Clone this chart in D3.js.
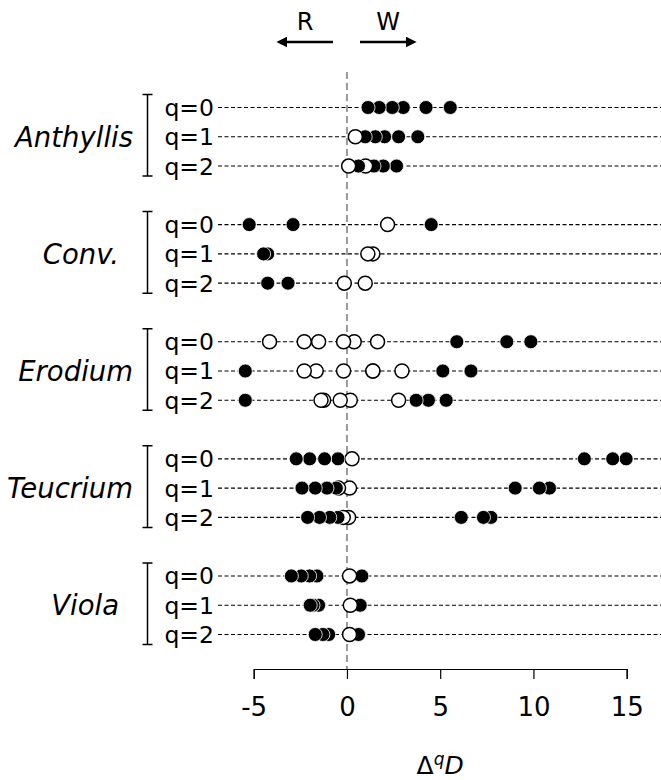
<!DOCTYPE html>
<html>
<head>
<meta charset="utf-8">
<script src="https://cdn.jsdelivr.net/npm/d3@7"></script>
<style>
  body { margin: 0; background: #fff; }
  svg { display: block; font-family: "DejaVu Sans", sans-serif; }
</style>
</head>
<body>
<script>
// genera, top to bottom
let genera = ["Anthyllis", "Conv.", "Erodium", "Teucrium", "Viola"];
let qLabels = ["q=0", "q=1", "q=2"];

// ΔqD values per genus and q order; filled = significant, open = not
let filledValues = [
  [[1.13, 1.73, 2.43, 3.02, 4.24, 5.54], [0.98, 1.52, 2.02, 2.77, 3.8], [0.62, 1.45, 1.95, 2.66]],
  [[-5.24, -2.89, 4.52], [-4.47, -4.25], [-4.25, -3.16]],
  [[5.89, 8.57, 9.86], [-5.45, 5.14, 6.65], [-5.45, 3.71, 4.37, 5.32]],
  [[-2.72, -2.0, -1.2, -0.48, 12.73, 14.25, 14.97], [-2.41, -1.7, -1.07, -0.57, 9.02, 10.32, 10.86], [-2.11, -1.47, -0.92, -0.48, 6.13, 7.32, 7.72]],
  [[-2.98, -2.45, -2.0, -1.61, 0.8], [-1.97, -1.82, -1.52, 0.71], [-1.7, -1.29, -0.98, 0.62]]
];
let openValues = [
  [[], [0.45], [0.09, 1.0]],
  [[2.18], [1.12, 1.39], [-0.14, 0.98]],
  [[-4.15, -2.29, -1.52, -0.18, 0.39, 1.64], [-2.29, -1.65, -0.18, 1.39, 1.39, 2.95], [-1.39, -1.25, -0.36, 0.18, 2.77]],
  [[0.27], [-0.45, 0.14], [-0.2, 0.09]],
  [[0.14], [0.18], [0.14]]
];
let xTicks = [-5, 0, 5, 10, 15];

let width = 661, height = 780;

let svg = d3.select("body").append("svg")
  .attr("width", width)
  .attr("height", height);

let x = d3.scaleLinear().domain([-5, 15]).range([253.7, 626.7]);
// one empty slot between genera
let y = d3.scaleLinear().domain([0, 18]).range([107.5, 634.5]);

// short names sit a bit further left in the original
let labelRight = { "Conv.": 119, "Viola": 119 };

let rows = [];
genera.forEach(function(genus, g) {
  qLabels.forEach(function(q, i) {
    let idx = g * 4 + i;
    let pts = [];
    filledValues[g][i].forEach(v => pts.push({ v: v, filled: true }));
    openValues[g][i].forEach(v => pts.push({ v: v, filled: false }));
    // leftmost markers end up on top
    pts.sort((a, b) => b.v - a.v);
    rows.push({ genus: genus, q: q, idx: idx, pts: pts });
  });
});

// zero reference line
svg.append("line")
  .attr("x1", x(0)).attr("x2", x(0))
  .attr("y1", 72).attr("y2", 669)
  .attr("stroke", "#9a9a9a")
  .attr("stroke-width", 2)
  .attr("stroke-dasharray", "7,4");

// row guide lines
svg.append("g").selectAll("line")
  .data(rows)
  .enter().append("line")
  .attr("x1", 218).attr("x2", width)
  .attr("y1", d => y(d.idx)).attr("y2", d => y(d.idx))
  .attr("stroke", "#000")
  .attr("stroke-width", 1.1)
  .attr("stroke-dasharray", "4,2.5");

// q labels
svg.append("g").selectAll("text")
  .data(rows)
  .enter().append("text")
  .attr("x", 214)
  .attr("y", d => y(d.idx))
  .attr("dy", "0.36em")
  .attr("text-anchor", "end")
  .style("font-size", "23.5px")
  .text(d => d.q);

// brackets and genus names
let grp = svg.append("g").selectAll("g")
  .data(genera)
  .enter().append("g");

grp.append("path")
  .attr("d", (d, g) => {
    let y0 = y(g * 4) - 13, y1 = y(g * 4 + 2) + 10;
    return "M142.5," + y0 + "H152.5M147.5," + y0 + "V" + y1 + "M142.5," + y1 + "H152.5";
  })
  .attr("fill", "none")
  .attr("stroke", "#000")
  .attr("stroke-width", 1.5);

grp.append("text")
  .attr("x", d => labelRight[d] || 133)
  .attr("y", (d, g) => y(g * 4 + 1))
  .attr("dy", "0.36em")
  .attr("text-anchor", "end")
  .style("font-size", "27.5px")
  .style("font-style", "italic")
  .text(d => d);

// markers
let rowG = svg.append("g").selectAll("g")
  .data(rows)
  .enter().append("g")
  .attr("transform", d => "translate(0," + y(d.idx) + ")");

rowG.selectAll("circle")
  .data(d => d.pts)
  .enter().append("circle")
  .attr("cx", d => x(d.v))
  .attr("cy", 0)
  .attr("r", 7)
  .attr("fill", d => d.filled ? "#000" : "#fff")
  .attr("stroke", d => d.filled ? "#fff" : "#000")
  .attr("stroke-width", d => d.filled ? 0.8 : 1.5);

// x axis
let axis = svg.append("g")
  .attr("transform", "translate(0,669)")
  .call(d3.axisBottom(x).tickValues(xTicks).tickSize(10).tickPadding(19).tickFormat(d => String(d)));
axis.select(".domain").attr("stroke-width", 1.2);
axis.selectAll(".tick line").attr("stroke-width", 1.2);
axis.selectAll("text")
  .style("font-family", "DejaVu Sans")
  .style("font-size", "26px");

let lab = svg.append("text")
  .attr("x", x(5))
  .attr("y", 774)
  .attr("text-anchor", "middle")
  .style("font-size", "25px");
lab.append("tspan").text("Δ");
lab.append("tspan").attr("dy", -9).style("font-size", "17px").style("font-style", "italic").text("q");
lab.append("tspan").attr("dy", 9).style("font-style", "italic").text("D");

// direction arrows
let defs = svg.append("defs");
defs.append("marker")
  .attr("id", "head")
  .attr("viewBox", "0 0 10 10")
  .attr("refX", 4).attr("refY", 5)
  .attr("markerUnits", "userSpaceOnUse")
  .attr("markerWidth", 11).attr("markerHeight", 11)
  .attr("orient", "auto")
  .append("path").attr("d", "M0,0L10,5L0,10Z").attr("fill", "#000");

[[333, 283, "R"], [360, 410, "W"]].forEach(function(a) {
  svg.append("line")
    .attr("x1", a[0]).attr("x2", a[1])
    .attr("y1", 42).attr("y2", 42)
    .attr("stroke", "#000")
    .attr("stroke-width", 2.5)
    .attr("marker-end", "url(#head)");
  svg.append("text")
    .attr("x", a[0] < a[1] ? 388 : 305)
    .attr("y", 30)
    .attr("text-anchor", "middle")
    .style("font-size", "24px")
    .text(a[2]);
});
</script>
</body>
</html>
